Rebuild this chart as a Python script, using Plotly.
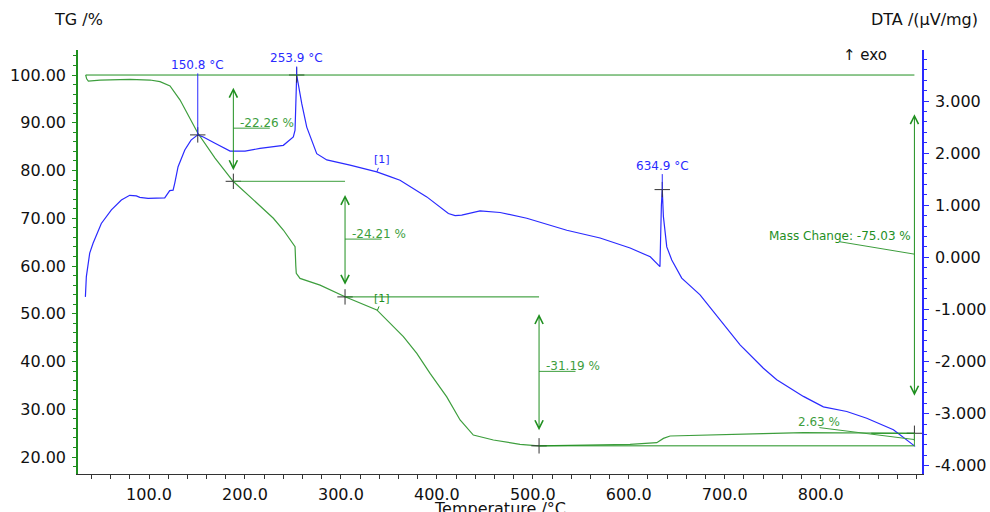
import plotly.graph_objects as go

# ---------------- data ----------------
temp_tg = [34.0, 35.0, 36.8, 49.0, 80.3, 101.1, 111.5, 121.9, 132.4, 142.8, 150.8, 168.8,
           187.9, 208.0, 229.6, 240.0, 252.2, 253.0, 253.5, 257.4, 278.3, 304.3, 337.4,
           365.1, 379.1, 392.9, 410.3, 424.2, 438.0, 458.9, 486.7, 505.8, 540.0, 575.0,
           601.4, 629.2, 636.1, 643.1, 695.3, 740.0, 782.0, 834.1, 870.0, 896.6, 897.7]
tg = [100.0, 99.2, 98.74, 98.95, 99.1, 98.95, 98.6, 97.7, 94.76, 91.0, 87.85, 82.6,
      77.7, 74.0, 70.0, 67.54, 64.06, 60.0, 58.47, 57.4, 56.0, 53.57, 50.8,
      45.2, 41.7, 37.5, 32.6, 27.75, 24.6, 23.56, 22.66, 22.35, 22.45, 22.5,
      22.66, 23.0, 23.9, 24.4, 24.75, 24.9, 25.1, 25.0, 25.05, 25.0, 24.97]

temp_dta = [33.7, 34.7, 38.2, 41.7, 50.3, 60.8, 71.2, 79.9, 86.8, 90.4, 99.0, 116.4,
            121.6, 125.1, 126.8, 130.3, 137.3, 143.8, 150.8, 156.6, 168.8, 184.5, 200.1,
            215.7, 240.0, 250.4, 252.2, 253.9, 259.2, 264.4, 274.8, 285.3, 309.5, 337.4,
            351.2, 361.6, 389.5, 412.0, 419.0, 425.9, 445.0, 465.9, 493.7, 535.4, 570.1,
            601.4, 622.4, 632.5, 634.0, 634.9, 636.1, 639.6, 644.8, 655.2, 674.3, 695.3,
            716.0, 740.3, 754.2, 782.0, 802.8, 827.2, 848.0, 875.8, 898.4]
dta = [-0.76, -0.37, 0.08, 0.27, 0.65, 0.91, 1.10, 1.19, 1.18, 1.15, 1.13, 1.14,
       1.28, 1.29, 1.42, 1.74, 2.06, 2.25, 2.35, 2.31, 2.19, 2.04, 2.04,
       2.09, 2.15, 2.31, 2.44, 3.50, 2.95, 2.50, 1.99, 1.87, 1.77, 1.64,
       1.55, 1.48, 1.16, 0.84, 0.80, 0.81, 0.89, 0.86, 0.75, 0.52, 0.37,
       0.18, 0.01, -0.18, 1.00, 1.30, 0.78, 0.20, -0.05, -0.40, -0.72, -1.20,
       -1.68, -2.13, -2.35, -2.67, -2.87, -2.96, -3.09, -3.31, -3.63]

x_tick_vals = [100, 200, 300, 400, 500, 600, 700, 800]
x_tick_text = ["100.0", "200.0", "300.0", "400.0", "500.0", "600.0", "700.0", "800.0"]
tg_tick_vals = [20, 30, 40, 50, 60, 70, 80, 90, 100]
tg_tick_text = ["20.00", "30.00", "40.00", "50.00", "60.00", "70.00", "80.00", "90.00", "100.00"]
dta_tick_vals = [-4, -3, -2, -1, 0, 1, 2, 3]
dta_tick_text = ["-4.000", "-3.000", "-2.000", "-1.000", "0.000", "1.000", "2.000", "3.000"]

peak_temps = [150.8, 253.9, 634.9]
peak_dta = [2.35, 3.50, 1.30]
peak_labels = ["150.8 °C", "253.9 °C", "634.9 °C"]

step_temps = [34.0, 187.9, 304.3, 506.5, 897.7]
step_levels = [100.0, 77.74, 53.53, 22.34, 24.97]
step_changes = [-22.26, -24.21, -31.19]
residual_change = 2.63
total_change = -75.03

# ---------------- styling ----------------
GREEN = "#1f8f1f"
GREEN_L = "#3d9e3d"
BLUE = "#2a2aff"
FONT = "DejaVu Sans"

fig = go.Figure()
fig.add_trace(go.Scatter(x=temp_tg, y=tg, mode="lines", line=dict(color=GREEN_L, width=1.2),
                         yaxis="y", showlegend=False, hoverinfo="skip"))
fig.add_trace(go.Scatter(x=temp_dta, y=dta, mode="lines", line=dict(color=BLUE, width=1.2),
                         yaxis="y2", showlegend=False, hoverinfo="skip"))

shapes = []
annotations = []

def hline(x0, x1, y, color=GREEN, yref="y", width=1):
    shapes.append(dict(type="line", xref="x", yref=yref, x0=x0, x1=x1, y0=y, y1=y,
                       line=dict(color=color, width=width)))

def seg(x0, y0, x1, y1, color=GREEN, yref="y", width=1):
    shapes.append(dict(type="line", xref="x", yref=yref, x0=x0, x1=x1, y0=y0, y1=y1,
                       line=dict(color=color, width=width)))

def darrow(x, y_top, y_bot, color=GREEN):
    annotations.append(dict(x=x, y=y_bot, ax=x, ay=y_top, xref="x", yref="y", axref="x", ayref="y",
                            text="", showarrow=True, arrowhead=5, startarrowhead=5,
                            arrowside="end+start", arrowsize=1.6, startarrowsize=1.6,
                            arrowwidth=1, arrowcolor=color, standoff=0, startstandoff=0))

# level 100 line across
hline(step_temps[0], step_temps[-1], step_levels[0])
# step levels and arrows
for i, chg in enumerate(step_changes):
    t = step_temps[i + 1]
    hi, lo = step_levels[i], step_levels[i + 1]
    hline(t, step_temps[i + 2], lo, color=GREEN_L if i == 0 else GREEN)
    inset = 0.105 * (hi - lo)
    darrow(t, hi - inset, lo + inset)
    mid = (hi + lo) / 2
    hline(t, t + 38, mid, color=GREEN_L)
    annotations.append(dict(x=t, y=mid, xref="x", yref="y", text=f"{chg:.2f} %", showarrow=False,
                            xanchor="left", yanchor="bottom", xshift=5, yshift=-4,
                            font=dict(family=FONT, size=12, color=GREEN_L)))

# total mass change arrow
t_end = step_temps[-1]
lvl_end = step_levels[-1]
inset = 0.105 * (100 - lvl_end)
darrow(t_end, 100 - inset, lvl_end + inset)
mid_total = (100 + lvl_end) / 2
seg(t_end, mid_total, t_end - 78, mid_total + 2.6, color=GREEN_L)
annotations.append(dict(x=t_end, y=mid_total + 2.6, xref="x", yref="y",
                        text=f"Mass Change: {total_change:.2f} %", showarrow=False,
                        xanchor="right", yanchor="bottom", xshift=-1, yshift=-3,
                        font=dict(family=FONT, size=12, color=GREEN)))

# residual mass gain
seg(t_end, step_levels[3], t_end, lvl_end, color=GREEN_L)
mid_res = (step_levels[3] + lvl_end) / 2
seg(t_end, mid_res, t_end - 99, mid_res + 2.5, color=GREEN_L)
annotations.append(dict(x=t_end - 99, y=mid_res + 2.5, xref="x", yref="y",
                        text=f"{residual_change:.2f} %", showarrow=False,
                        xanchor="center", yanchor="bottom", yshift=-3,
                        font=dict(family=FONT, size=12, color=GREEN_L)))
hline(t_end - 45, t_end, lvl_end, color=GREEN)

# peak labels
peak_offsets = [-70, -17, -24]
for t, v, lab, off in zip(peak_temps, peak_dta, peak_labels, peak_offsets):
    annotations.append(dict(x=t, y=v, xref="x", yref="y2", text=lab, showarrow=True,
                            arrowhead=0, ax=0, ay=off, arrowcolor=BLUE, arrowwidth=1,
                            standoff=0, font=dict(family=FONT, size=12, color=BLUE)))

# [1] curve labels
annotations.append(dict(x=337.4, y=1.64, xref="x", yref="y2", text="[1]", showarrow=True,
                        arrowhead=0, ax=5, ay=-12, arrowcolor=BLUE, arrowwidth=1,
                        font=dict(family=FONT, size=11, color=BLUE)))
annotations.append(dict(x=338.0, y=50.7, xref="x", yref="y", text="[1]", showarrow=True,
                        arrowhead=0, ax=5, ay=-12, arrowcolor=GREEN, arrowwidth=1,
                        font=dict(family=FONT, size=11, color=GREEN)))

# crosses
fig.add_trace(go.Scatter(x=peak_temps, y=peak_dta, mode="markers", yaxis="y2",
                         marker=dict(symbol="cross-thin", size=11, line=dict(color="#333333", width=1)),
                         showlegend=False, hoverinfo="skip"))
fig.add_trace(go.Scatter(x=step_temps[1:], y=step_levels[1:], mode="markers", yaxis="y",
                         marker=dict(symbol="cross-thin", size=11, line=dict(color="#333333", width=1)),
                         showlegend=False, hoverinfo="skip"))

# axis titles as text
annotations += [
    dict(xref="paper", yref="paper", x=-0.031, y=1.071, text="TG /%", showarrow=False,
         xanchor="left", yanchor="middle", font=dict(family=FONT, size=16, color="#111")),
    dict(xref="paper", yref="paper", x=1.0687, y=1.071, text="DTA /(µV/mg)", showarrow=False,
         xanchor="right", yanchor="middle", font=dict(family=FONT, size=16, color="#111")),
    dict(xref="paper", yref="paper", x=0.904, y=0.988, text="↑ exo", showarrow=False,
         xanchor="left", yanchor="middle", font=dict(family=FONT, size=15, color="#111")),
    dict(xref="paper", yref="paper", x=0.5, y=-0.082, text="Temperature /°C", showarrow=False,
         xanchor="center", yanchor="middle", font=dict(family=FONT, size=16, color="#111")),
]

tickfont = dict(family=FONT, size=16, color="#111")
fig.update_layout(
    width=990, height=512,
    margin=dict(l=78, r=68, t=50, b=38, autoexpand=False),
    paper_bgcolor="white", plot_bgcolor="white",
    shapes=shapes, annotations=annotations,
    xaxis=dict(range=[26.0, 905.6], tickmode="array", tickvals=x_tick_vals, ticktext=x_tick_text,
               automargin=False,
               showgrid=False, zeroline=False, showline=True, linecolor="#333", linewidth=1.2,
               ticks="outside", ticklen=4, tickcolor="#333", tickfont=tickfont,
               ticklabelstandoff=2,
               minor=dict(tickmode="linear", tick0=0, dtick=20, ticks="outside", ticklen=4, tickcolor="#333")),
    yaxis=dict(range=[16.44, 105.24], tickmode="array", tickvals=tg_tick_vals, ticktext=tg_tick_text,
               automargin=False,
               showgrid=False, zeroline=False, showline=True, linecolor=GREEN, linewidth=1.5,
               ticks="outside", ticklen=4, tickcolor=GREEN, tickfont=tickfont,
               ticklabelstandoff=3,
               minor=dict(tickmode="linear", tick0=0, dtick=2, ticks="outside", ticklen=3, tickcolor=GREEN)),
    yaxis2=dict(range=[-4.16, 3.98], overlaying="y", side="right", tickmode="array",
                tickvals=dta_tick_vals, ticktext=dta_tick_text, automargin=False,
                showgrid=False, zeroline=False, showline=True, linecolor=BLUE, linewidth=1.5,
                ticks="outside", ticklen=5, tickcolor=BLUE, tickfont=tickfont,
                ticklabelstandoff=3,
                minor=dict(tickmode="linear", tick0=0, dtick=0.2, ticks="outside", ticklen=3, tickcolor=BLUE)),
)

fig.write_html("out.html", config={"displayModeBar": False},
               post_script="document.body.style.margin='0';document.body.style.overflow='hidden';")
